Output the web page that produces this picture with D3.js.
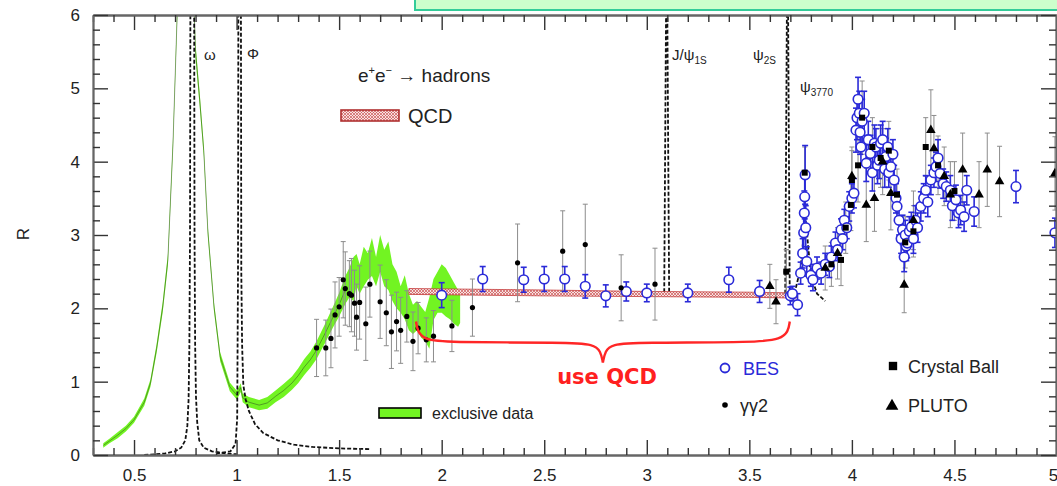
<!DOCTYPE html>
<html>
<head>
<meta charset="utf-8">
<script src="https://cdn.jsdelivr.net/npm/d3@7"></script>
<style>
  body { margin: 0; background: #fff; }
  svg { display: block; font-family: "Liberation Sans", Arial, sans-serif; }
</style>
</head>
<body>
<script>
// ---- axis ticks
const xTicks = [0.5, 1, 1.5, 2, 2.5, 3, 3.5, 4, 4.5, 5]
const xTickLabels = ['0.5', '1', '1.5', '2', '2.5', '3', '3.5', '4', '4.5', '5']
const yTicks = [0, 1, 2, 3, 4, 5, 6]
const yTickLabels = ['0', '1', '2', '3', '4', '5', '6']

// ---- exclusive data band (sqrt(s) in GeV, R, half width)
const excX = [0.35,0.38,0.42,0.46,0.50,0.55,0.58,0.61,0.64,0.665,0.69,0.71,0.735,0.76,0.78,0.80,0.82,0.84,0.86,0.89,
  0.92,0.967,1.0,1.01,1.02,1.03,1.06,1.11,1.15,1.19,1.23,1.27,1.30,1.33,1.36,1.39,1.43,1.47,1.50,1.53,
  1.55,1.57,1.585,1.60,1.62,1.64,1.66,1.68,1.70,1.72,1.74,1.76,1.78,1.80,1.82,1.84,1.86,1.88,1.90,1.92,
  1.94,1.96,1.98,2.00,2.02,2.04,2.06,2.08,2.09]
const excR = [0.13,0.19,0.27,0.36,0.48,0.72,0.98,1.45,2.02,2.66,4.25,5.97,7.6,8.1,7.2,5.5,4.85,4.15,3.05,2.02,
  1.34,0.93,0.82,0.86,0.92,0.78,0.72,0.68,0.71,0.80,0.88,0.98,1.08,1.20,1.30,1.43,1.65,1.88,2.05,2.25,
  2.35,2.40,2.52,2.40,2.57,2.57,2.70,2.50,2.75,2.55,2.58,2.35,2.25,2.12,2.15,1.95,1.85,1.90,1.81,1.75,
  1.80,2.12,2.22,2.27,2.22,2.15,2.07,2.00,2.00]
const excErr = [0.03,0.03,0.04,0.04,0.04,0.05,0.05,0.06,0.07,0.08,0.09,0.1,0.1,0.1,0.1,0.1,0.09,0.08,0.07,0.06,
  0.06,0.06,0.06,0.06,0.06,0.06,0.07,0.07,0.08,0.08,0.09,0.09,0.1,0.11,0.11,0.12,0.13,0.14,0.16,0.19,
  0.2,0.3,0.22,0.2,0.27,0.18,0.26,0.2,0.25,0.25,0.33,0.25,0.25,0.18,0.3,0.25,0.2,0.2,0.21,0.2,
  0.35,0.28,0.28,0.33,0.33,0.3,0.28,0.25,0.2]

// ---- narrow resonances (dashed)
const omegaX = [0.55,0.65,0.70,0.73,0.75,0.76,0.766,0.770,0.773,0.775,0.793,0.795,0.798,0.802,0.808,0.818,0.84,0.88,0.95,1.0]
const omegaR = [0.0,0.02,0.05,0.1,0.2,0.4,0.75,1.5,3.0,6.5,6.5,3.0,1.5,0.8,0.45,0.2,0.1,0.05,0.02,0.01]
const phiX = [0.90,0.97,0.995,1.003,1.007,1.009,1.021,1.023,1.027,1.033,1.045,1.06,1.09,1.13,1.2,1.28,1.37,1.5,1.65]
const phiR = [0.02,0.05,0.15,0.5,2.5,6.5,6.5,2.5,1.5,0.95,0.75,0.6,0.42,0.3,0.2,0.14,0.11,0.09,0.08]
const jpsiX = [3.085,3.095,3.099,3.109]
const jpsiR = [2.22,6.5,6.5,2.22]
const psi2X = [3.675,3.684,3.688,3.697]
const psi2R = [2.2,6.5,6.5,2.2]
const psi3X = [3.72,3.75,3.765,3.773,3.785,3.80,3.83,3.87]
const psi3R = [2.2,2.55,3.0,3.3,2.9,2.45,2.2,2.1]

// ---- QCD band
const qcdX = [1.84, 2.5, 3.0, 3.5, 3.73]
const qcdLo = [2.19, 2.17, 2.16, 2.15, 2.14]
const qcdHi = [2.27, 2.25, 2.23, 2.22, 2.21]

// ---- gamma gamma 2
const ggX = [1.39,1.435,1.46,1.48,1.50,1.52,1.53,1.55,1.56,1.575,1.585,1.60,1.63,1.65,1.70,1.73,1.755,1.78,1.80,1.83,
  1.86,1.885,1.925,1.96,2.05,2.15,2.37,2.59,2.70,2.875,3.04,3.68]
const ggR = [1.46,1.46,1.59,1.91,2.02,2.39,2.27,2.20,2.18,2.07,1.88,2.08,1.79,2.33,2.09,1.94,1.68,1.82,1.70,1.89,
  1.55,1.73,1.57,1.62,1.76,2.01,2.62,2.78,2.87,2.28,2.33,2.50]
const ggErr = [0.39,0.38,0.4,0.45,0.4,0.52,0.5,0.45,0.5,0.45,0.45,0.5,0.5,0.45,0.5,0.45,0.5,0.4,0.45,0.35,
  0.4,0.35,0.3,0.35,0.35,0.39,0.53,0.55,0.55,0.45,0.49,0.3]

// ---- BES
const besX = [2.0,2.2,2.4,2.5,2.6,2.7,2.8,2.9,3.0,3.2,3.4,3.55,3.70,3.71,3.735,3.75,3.76,3.765,3.768,3.770,
  3.772,3.775,3.78,3.80,3.81,3.83,3.85,3.87,3.89,3.90,3.92,3.93,3.947,3.955,3.963,3.975,3.987,4.00,4.01,4.02,
  4.025,4.03,4.036,4.04,4.044,4.05,4.06,4.07,4.08,4.09,4.10,4.11,4.117,4.125,4.133,4.14,4.15,4.16,4.166,4.175,
  4.18,4.19,4.20,4.206,4.215,4.22,4.23,4.24,4.247,4.255,4.26,4.265,4.27,4.28,4.29,4.30,4.31,4.32,4.336,4.35,
  4.36,4.37,4.385,4.40,4.41,4.42,4.43,4.445,4.46,4.48,4.49,4.507,4.52,4.53,4.547,4.56,4.596,4.80,4.99]
const besR = [2.18,2.40,2.39,2.40,2.40,2.30,2.17,2.23,2.21,2.21,2.39,2.23,2.17,2.20,2.05,2.48,2.75,3.03,3.30,3.52,
  3.82,3.10,2.64,2.45,2.39,2.55,2.48,2.60,2.57,2.70,2.89,2.80,3.07,2.95,3.20,3.10,3.39,3.50,3.57,4.43,
  4.60,4.85,4.66,4.40,4.20,4.55,4.66,3.98,4.30,4.11,3.85,4.25,4.20,3.95,4.02,4.25,4.30,3.90,4.07,4.20,
  3.85,3.93,4.10,3.75,3.50,3.39,3.20,2.95,3.07,2.70,3.00,2.85,2.89,3.05,3.11,2.95,3.20,3.10,3.39,3.50,
  3.61,3.45,3.75,3.85,3.93,4.05,3.84,3.70,3.66,3.61,3.40,3.48,3.30,3.34,3.25,3.61,3.32,3.66,3.03]
const besErr = [0.17,0.17,0.17,0.17,0.17,0.16,0.15,0.13,0.12,0.12,0.17,0.15,0.12,0.1,0.15,0.15,0.2,0.25,0.3,0.3,
  0.4,0.3,0.2,0.15,0.15,0.15,0.15,0.15,0.15,0.15,0.15,0.15,0.15,0.15,0.15,0.15,0.2,0.2,0.2,0.3,
  0.3,0.3,0.3,0.3,0.25,0.3,0.3,0.25,0.25,0.25,0.25,0.25,0.25,0.25,0.25,0.25,0.25,0.25,0.25,0.25,
  0.2,0.2,0.2,0.2,0.2,0.2,0.2,0.2,0.2,0.2,0.2,0.2,0.2,0.2,0.2,0.2,0.2,0.2,0.2,0.2,
  0.2,0.2,0.2,0.2,0.2,0.25,0.2,0.2,0.2,0.2,0.2,0.2,0.2,0.2,0.2,0.2,0.2,0.22,0.2]

// ---- PLUTO
const plutoX = [3.60,3.63,3.87,3.93,4.0,4.07,4.11,4.15,4.19,4.255,4.30,4.385,4.40,4.45,4.48,4.54,4.62,4.66,4.72,4.99]
const plutoR = [2.30,2.09,2.55,2.75,3.80,3.41,3.50,4.00,3.57,2.32,3.20,4.43,4.18,3.80,3.55,3.89,3.55,3.89,3.73,3.84]
const plutoErr = [0.3,0.3,0.3,0.35,0.4,0.5,0.45,0.45,0.5,0.38,0.4,0.55,0.45,0.4,0.45,0.5,0.45,0.5,0.48,0.5]

// ---- Crystal Ball
const cbX = [3.68,3.77,3.90,3.947,3.97,3.995,4.0,4.03,4.05,4.10,4.14,4.18,4.22,4.26,4.30,4.36,4.42,4.5]
const cbR = [2.50,3.85,2.60,2.66,3.10,3.41,3.75,3.95,4.60,4.20,4.05,4.15,3.55,2.90,3.05,4.20,3.95,3.60]
const cbErr = [0.3,0.35,0.3,0.35,0.35,0.35,0.4,0.5,0.5,0.4,0.4,0.4,0.35,0.35,0.35,0.4,0.4,0.4]

// ---- "use QCD" brace (in data coordinates)
const braceLeft = [[1.875,1.82],[1.882,1.68],[1.92,1.575],[2.0,1.535],[2.62,1.535],[2.74,1.51],[2.775,1.42],[2.786,1.26]]
const braceRight = [[2.786,1.26],[2.797,1.42],[2.83,1.51],[2.95,1.535],[3.55,1.535],[3.65,1.58],[3.69,1.68],[3.697,1.82]]

const W = 1057, H = 486
const green = '#72f422', blue = '#2a2ad8', gray = '#8c8c8c'

const x = d3.scaleLinear().domain([0.3, 5.0]).range([93, 1057])
const y = d3.scaleLinear().domain([0, 6]).range([455, 15])

const svg = d3.select('body').append('svg').attr('width', W).attr('height', H)
const defs = svg.append('defs')

defs.append('clipPath').attr('id', 'plot')
  .append('rect').attr('x', 93).attr('y', 15).attr('width', 964).attr('height', 440)

const pat = defs.append('pattern').attr('id', 'hatch')
  .attr('width', 3).attr('height', 3).attr('patternUnits', 'userSpaceOnUse')
pat.append('rect').attr('width', 3).attr('height', 3).attr('fill', '#f7e2e2')
pat.append('path').attr('d', 'M0,0L3,3M3,0L0,3').attr('stroke', '#cc5555').attr('stroke-width', 0.7)

const plot = svg.append('g').attr('clip-path', 'url(#plot)')

// green exclusive band
const exc = excX.map((v, i) => ({x: v, r: excR[i], e: excErr[i]}))
plot.append('path')
  .datum(exc)
  .attr('fill', green)
  .attr('d', d3.area().x(d => x(d.x)).y0(d => y(d.r - d.e)).y1(d => y(d.r + d.e)))
plot.append('path')
  .datum(exc.filter(d => d.x < 1.55))
  .attr('fill', 'none').attr('stroke', '#222').attr('stroke-width', 0.7).attr('opacity', 0.6)
  .attr('d', d3.line().x(d => x(d.x)).y(d => y(d.r)))

// dashed resonance curves
let reso = [[omegaX, omegaR], [phiX, phiR], [jpsiX, jpsiR], [psi2X, psi2R], [psi3X, psi3R]]
reso.forEach(([xs, rs]) => {
  plot.append('path')
    .datum(xs.map((v, i) => [v, rs[i]]))
    .attr('fill', 'none').attr('stroke', '#111').attr('stroke-width', 1.8)
    .attr('stroke-dasharray', '4,2')
    .attr('d', d3.line().x(d => x(d[0])).y(d => y(d[1])))
})

// QCD band
const qcd = qcdX.map((v, i) => ({x: v, lo: qcdLo[i], hi: qcdHi[i]}))
plot.append('path')
  .datum(qcd)
  .attr('fill', 'url(#hatch)').attr('stroke', '#c43a3a').attr('stroke-width', 0.8)
  .attr('d', d3.area().x(d => x(d.x)).y0(d => y(d.lo)).y1(d => y(d.hi)))

function errBars (xs, rs, es, color, cap, width) {
  let g = plot.append('g').attr('stroke', color).attr('stroke-width', width)
  xs.forEach((v, i) => {
    let px = x(v), top = y(rs[i] + es[i]), bot = y(rs[i] - es[i])
    g.append('line').attr('x1', px).attr('x2', px).attr('y1', top).attr('y2', bot)
    g.append('line').attr('x1', px - cap).attr('x2', px + cap).attr('y1', top).attr('y2', top)
    g.append('line').attr('x1', px - cap).attr('x2', px + cap).attr('y1', bot).attr('y2', bot)
  })
}

errBars(ggX, ggR, ggErr, gray, 2.5, 1)
errBars(plutoX, plutoR, plutoErr, gray, 2.5, 1)
errBars(cbX, cbR, cbErr, gray, 2.5, 1)
errBars(besX, besR, besErr, blue, 3, 1.6)

plot.append('g').selectAll('circle')
  .data(besX).enter().append('circle')
  .attr('cx', d => x(d)).attr('cy', (d, i) => y(besR[i])).attr('r', 4.8)
  .attr('fill', '#fff').attr('stroke', blue).attr('stroke-width', 1.6)

plot.append('g').selectAll('circle')
  .data(ggX).enter().append('circle')
  .attr('cx', d => x(d)).attr('cy', (d, i) => y(ggR[i])).attr('r', 2.6)
  .attr('fill', '#000')

const tri = d3.symbol().type(d3.symbolTriangle).size(40)
const sq = d3.symbol().type(d3.symbolSquare).size(36)

plot.append('g').selectAll('path')
  .data(plutoX).enter().append('path')
  .attr('transform', (d, i) => `translate(${x(d)},${y(plutoR[i])})`)
  .attr('d', tri).attr('fill', '#000')

plot.append('g').selectAll('path')
  .data(cbX).enter().append('path')
  .attr('transform', (d, i) => `translate(${x(d)},${y(cbR[i])})`)
  .attr('d', sq).attr('fill', '#000')

// brace
;[braceLeft, braceRight].forEach(pts => {
  svg.append('path')
    .datum(pts)
    .attr('fill', 'none').attr('stroke', '#ff2626').attr('stroke-width', 2.4)
    .attr('d', d3.line().curve(d3.curveBasis).x(d => x(d[0])).y(d => y(d[1])))
})

svg.append('text').attr('x', 607).attr('y', 384)
  .attr('text-anchor', 'middle').attr('fill', '#ff2020')
  .style('font-family', '"DejaVu Sans", sans-serif').style('font-weight', 'bold').style('font-size', '21px')
  .text('use QCD')

// axes
function styleAxis (g) {
  g.select('.domain').attr('stroke', '#666').attr('stroke-width', 1.8)
  g.selectAll('.tick line').attr('stroke', '#333').attr('stroke-width', 1.4)
  g.selectAll('.tick text').attr('fill', '#222').style('font-size', '17px')
    .style('font-family', '"Liberation Sans", Arial, sans-serif')
}

const xMinor = d3.range(3, 51).filter(i => i % 5 !== 0).map(i => i / 10)
const yMinor = d3.range(0, 31).filter(i => i % 5 !== 0).map(i => i / 5)

svg.append('g').attr('transform', 'translate(0,455)')
  .call(d3.axisBottom(x).tickValues(xTicks).tickFormat((d, i) => xTickLabels[i])
    .tickSizeInner(-15).tickSizeOuter(0).tickPadding(14))
  .call(styleAxis)
  .call(g => g.selectAll('.tick text').filter(d => d === 5).attr('dx', -4))
svg.append('g').attr('transform', 'translate(0,455)')
  .call(d3.axisBottom(x).tickValues(xMinor).tickFormat('').tickSizeInner(-7).tickSizeOuter(0))
  .call(styleAxis)
svg.append('g').attr('transform', 'translate(0,15)')
  .call(d3.axisTop(x).tickValues(xTicks).tickFormat('').tickSizeInner(-15).tickSizeOuter(0))
  .call(styleAxis)
svg.append('g').attr('transform', 'translate(0,15)')
  .call(d3.axisTop(x).tickValues(xMinor).tickFormat('').tickSizeInner(-7).tickSizeOuter(0))
  .call(styleAxis)
svg.append('g').attr('transform', 'translate(93,0)')
  .call(d3.axisLeft(y).tickValues(yTicks).tickFormat((d, i) => yTickLabels[i])
    .tickSizeInner(-15).tickSizeOuter(0).tickPadding(13))
  .call(styleAxis)
svg.append('g').attr('transform', 'translate(93,0)')
  .call(d3.axisLeft(y).tickValues(yMinor).tickFormat('').tickSizeInner(-7).tickSizeOuter(0))
  .call(styleAxis)
svg.append('g').attr('transform', 'translate(1056,0)')
  .call(d3.axisRight(y).tickValues(yTicks).tickFormat('').tickSizeInner(-15).tickSizeOuter(0))
  .call(styleAxis)
svg.append('g').attr('transform', 'translate(1056,0)')
  .call(d3.axisRight(y).tickValues(yMinor).tickFormat('').tickSizeInner(-7).tickSizeOuter(0))
  .call(styleAxis)

svg.append('text').attr('transform', 'translate(29,234) rotate(-90)')
  .attr('text-anchor', 'middle').attr('fill', '#222').style('font-size', '17px').text('R')

// resonance labels
const lab = svg.append('g').attr('fill', '#222').style('font-size', '15px')
lab.append('text').attr('x', 204).attr('y', 60).text('ω')
lab.append('text').attr('x', 247).attr('y', 59).text('Φ')
let t = lab.append('text').attr('x', 672).attr('y', 60)
t.append('tspan').text('J/ψ')
t.append('tspan').attr('dy', 4).style('font-size', '10px').text('1S')
t = lab.append('text').attr('x', 753).attr('y', 60)
t.append('tspan').text('ψ')
t.append('tspan').attr('dy', 4).style('font-size', '10px').text('2S')
t = lab.append('text').attr('x', 800).attr('y', 92)
t.append('tspan').text('ψ')
t.append('tspan').attr('dy', 4).style('font-size', '10px').text('3770')

// title
t = svg.append('text').attr('x', 358).attr('y', 82).attr('fill', '#222').style('font-size', '19px')
t.append('tspan').text('e')
t.append('tspan').attr('dy', -8).style('font-size', '11px').text('+')
t.append('tspan').attr('dy', 8).text('e')
t.append('tspan').attr('dy', -8).style('font-size', '11px').text('−')
t.append('tspan').attr('dy', 8).text(' → hadrons')

// QCD legend
svg.append('rect').attr('x', 341).attr('y', 110).attr('width', 58).attr('height', 11)
  .attr('fill', 'url(#hatch)').attr('stroke', '#b03030').attr('stroke-width', 1.6)
svg.append('text').attr('x', 408).attr('y', 123).attr('fill', '#222').style('font-size', '20px').text('QCD')

// data legend
svg.append('rect').attr('x', 379).attr('y', 408).attr('width', 42).attr('height', 10)
  .attr('fill', green).attr('stroke', '#000').attr('stroke-width', 1.6)
svg.append('text').attr('x', 432).attr('y', 419).attr('fill', '#222').style('font-size', '16px').text('exclusive data')

svg.append('circle').attr('cx', 725).attr('cy', 368).attr('r', 4.5)
  .attr('fill', '#fff').attr('stroke', blue).attr('stroke-width', 1.8)
svg.append('text').attr('x', 743).attr('y', 375).attr('fill', blue).style('font-size', '18px').text('BES')
svg.append('circle').attr('cx', 725).attr('cy', 405).attr('r', 2.8).attr('fill', '#000')
svg.append('text').attr('x', 740).attr('y', 412).attr('fill', '#222').style('font-size', '18px').text('γγ2')
svg.append('path').attr('transform', 'translate(893,366)').attr('d', d3.symbol().type(d3.symbolSquare).size(70)).attr('fill', '#000')
svg.append('text').attr('x', 908).attr('y', 373).attr('fill', '#222').style('font-size', '18px').text('Crystal Ball')
svg.append('path').attr('transform', 'translate(892,406)').attr('d', d3.symbol().type(d3.symbolTriangle).size(70)).attr('fill', '#000')
svg.append('text').attr('x', 908).attr('y', 412).attr('fill', '#222').style('font-size', '18px').text('PLUTO')

// green box clipped at the top of the page
svg.append('rect').attr('x', 415).attr('y', -4).attr('width', 700).attr('height', 14)
  .attr('fill', '#ccffcc').attr('stroke', '#33cc99').attr('stroke-width', 2)
</script>
</body>
</html>
